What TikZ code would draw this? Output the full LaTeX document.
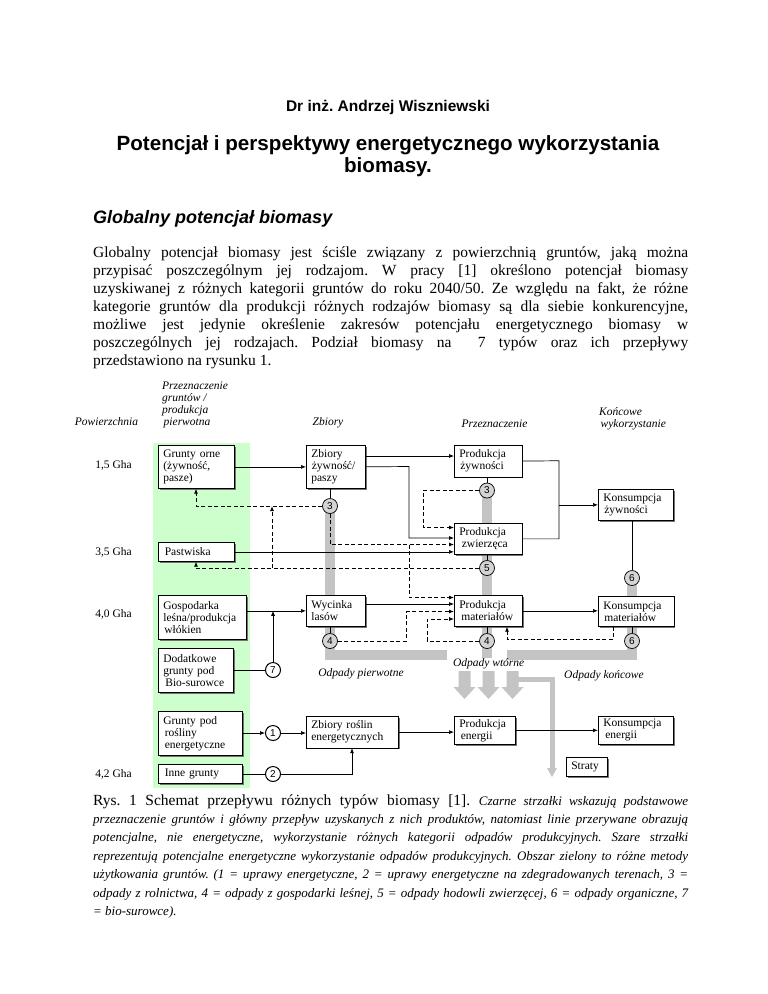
\documentclass[tikz,border=0pt]{standalone}
\usepackage{fontspec}
\setmainfont{Liberation Serif}
\setsansfont{Liberation Sans}
\usetikzlibrary{arrows.meta,shadows}
\definecolor{lgreen}{RGB}{204,255,204}
\definecolor{wgray}{RGB}{196,196,196}
\definecolor{cgray}{RGB}{212,212,212}
\newcommand\dfont{\fontsize{11.5}{12}\selectfont}
\newcommand\bodyfont{\fontsize{15.5}{18.5}\selectfont}
\newcommand\capit{\fontsize{13}{17}\selectfont\itshape}
\newcommand\bx[7]{\node[box, minimum width=#4pt, minimum height=#5pt, text width=#6pt] (#1) at (#2,#3) {#7};}
\newcommand\jl[3]{\node[anchor=base west, inner sep=0pt] (#1) at (#2) {\makebox[595pt][s]{#3}};}
\frenchspacing
\begin{document}
\begin{tikzpicture}[x=1pt,y=-1pt,
  >={Latex[length=5pt,width=4pt]},
  box/.style={draw, line width=0.7pt, fill=white, anchor=north west, inner xsep=5pt, inner ysep=0pt,
    align=left, font=\dfont,
    drop shadow={shadow xshift=1.3pt, shadow yshift=-1.3pt, fill=black!55, opacity=1}},
  circ/.style={circle, draw, line width=0.7pt, fill=cgray, minimum size=15pt, inner sep=0pt,
    font=\sffamily\fontsize{10}{10}\selectfont},
  wcirc/.style={circ, fill=white, line width=1pt},
  conn/.style={line width=0.7pt},
  dconn/.style={line width=0.8pt, dash pattern=on 4pt off 2.5pt},
  band/.style={wgray, line width=10pt, miter limit=10},
  hdr/.style={font=\dfont\itshape, inner sep=0pt},
  lbl/.style={font=\dfont, inner sep=0pt}]
\fill[white] (0,0) rectangle (768,994);
\useasboundingbox (0,0) rectangle (768,994);

% ---------- page text ----------
\node[anchor=base, inner sep=0pt, font=\sffamily\bfseries\fontsize{15.5}{18}\selectfont] (t0) at (388,111.5) {Dr inż. Andrzej Wiszniewski};
\node[anchor=base, inner sep=0pt, font=\sffamily\bfseries\fontsize{20.6}{24}\selectfont] (t1) at (388,150) {Potencjał i perspektywy energetycznego wykorzystania};
\node[anchor=base, inner sep=0pt, font=\sffamily\bfseries\fontsize{20.6}{24}\selectfont] (t2) at (388,172) {biomasy.};
\node[anchor=base west, inner sep=0pt, font=\sffamily\bfseries\itshape\fontsize{18}{20}\selectfont] (t3) at (93,223) {Globalny potencjał biomasy};

\begin{scope}[font=\bodyfont]
\jl{b1}{93,257}{Globalny potencjał biomasy jest ściśle związany z powierzchnią gruntów, jaką można}
\jl{b2}{93,275}{przypisać poszczególnym jej rodzajom. W pracy [1] określono potencjał biomasy}
\jl{b3}{93,293}{uzyskiwanej z różnych kategorii gruntów do roku 2040/50. Ze względu na fakt, że różne}
\jl{b4}{93,311}{kategorie gruntów dla produkcji różnych rodzajów biomasy są dla siebie konkurencyjne,}
\jl{b5}{93,329}{możliwe jest jedynie określenie zakresów potencjału energetycznego biomasy w}
\jl{b6}{93,347}{poszczególnych jej rodzajach. Podział biomasy na \ 7 typów oraz ich przepływy}
\node[anchor=base west, inner sep=0pt] (b7) at (93,365) {przedstawiono na rysunku 1.};

\jl{c0}{93,805}{Rys. 1 Schemat przepływu różnych typów biomasy [1]. {\capit Czarne strzałki wskazują podstawowe}}
\end{scope}
\begin{scope}[font=\capit]
\jl{cl1}{93,823}{przeznaczenie gruntów i główny przepływ uzyskanych z nich produktów, natomiast linie przerywane obrazują}
\jl{cl2}{93,841.5}{potencjalne, nie energetyczne, wykorzystanie różnych kategorii odpadów produkcyjnych. Szare strzałki}
\jl{cl3}{93,860}{reprezentują potencjalne energetyczne wykorzystanie odpadów produkcyjnych. Obszar zielony to różne metody}
\jl{cl4}{93,878.5}{użytkowania gruntów. (1 = uprawy energetyczne, 2 = uprawy energetyczne na zdegradowanych terenach, 3 =}
\jl{cl5}{93,897}{odpady z rolnictwa, 4 = odpady z gospodarki leśnej, 5 = odpady hodowli zwierzęcej, 6 = odpady organiczne, 7}
\node[anchor=base west, inner sep=0pt] (cl6) at (93,915.5) {= bio-surowce).};
\end{scope}

% ---------- diagram background ----------
\fill[lgreen] (153,443) rectangle (250,788);

% grey waste flows
\draw[band] (330,506) -- (330,655) -- (447,655);
\draw[band] (487,490) -- (487,658);
\draw[band] (632,578) -- (632,655) -- (507,655);
\foreach \cx in {464.5,488.5,512.5}
  \fill[wgray] (\cx-6,671) -- (\cx+6,671) -- (\cx+6,687) -- (\cx+11,687) -- (\cx,699)
               -- (\cx-11,687) -- (\cx-6,687) -- cycle;
\draw[wgray, line width=5pt, miter limit=10] (512,679.5) -- (552,679.5) -- (552,769);
\fill[wgray] (547,768) -- (557,768) -- (552,777) -- cycle;

% headers
\node[hdr] (h1) at (106.5,421.7) {Powierzchnia};
\node[hdr, anchor=west, align=left] (h2) at (162,405) {Przeznaczenie\\gruntów /\\produkcja\\\hspace*{1.5pt}pierwotna};
\node[hdr] (h3) at (328,423) {Zbiory};
\node[hdr] (h4) at (494.5,424) {Przeznaczenie};
\node[hdr, anchor=west, align=left] (h5) at (599,419) {Końcowe\\\hspace*{1.5pt}wykorzystanie};
\node[hdr] (o1) at (361,673.3) {Odpady pierwotne};
\node[hdr] (o2) at (488.7,664) {Odpady wtórne};
\node[hdr] (o3) at (604,675.7) {Odpady końcowe};
\node[lbl] (g1) at (113.5,465.7) {1,5 Gha};
\node[lbl] (g2) at (113.5,552) {3,5 Gha};
\node[lbl] (g3) at (113.5,614) {4,0 Gha};
\node[lbl] (g4) at (113.5,774) {4,2 Gha};

% boxes
\bx{go}{158}{445}{76}{43}{66}{Grunty orne\\(żywność,\\pasze)}
\bx{pa}{158}{542}{76}{19}{66}{\hspace*{1.5pt}Pastwiska}
\bx{gl}{158}{595}{88}{44}{78}{Gospodarka\\leśna/produkcja\\\hspace*{1pt}włókien}
\bx{do}{158}{648}{75}{44}{65}{Dodatkowe\\grunty pod\\\hspace*{2pt}Bio-surowce}
\bx{gp}{158}{711}{84}{44}{74}{Grunty pod\\\hspace*{1.5pt}rośliny\\\hspace*{1.5pt}energetyczne}
\bx{ig}{158}{764}{84}{19}{74}{\hspace*{1.5pt}Inne grunty}
\bx{zb}{306}{445}{59}{43}{49}{Zbiory\\\hspace*{0.5pt}żywność/\\paszy}
\bx{wl}{306}{595}{59}{31}{49}{Wycinka\\lasów}
\bx{zr}{306}{716}{92}{31.5}{82}{Zbiory roślin\\energetycznych}
\bx{pz}{454}{445}{67.5}{31.5}{57.5}{Produkcja\\\hspace*{1pt}żywności}
\bx{pzw}{454}{523}{67.5}{31}{57.5}{Produkcja\\\hspace*{2.5pt}zwierzęca}
\bx{pm}{454}{595}{68}{31}{58}{Produkcja\\\hspace*{2pt}materiałów}
\bx{pe}{454}{716}{61}{28}{51}{Produkcja\\\hspace*{1.5pt}energii}
\bx{kz}{598}{489}{75}{31}{65}{Konsumpcja\\\hspace*{1pt}żywności}
\bx{km}{598}{596}{75.5}{30}{65.5}{Konsumpcja\\\hspace*{1pt}materiałów}
\bx{ke}{598}{716}{75}{28}{65}{Konsumpcja\\\hspace*{2pt}energii}
\bx{st}{566}{757}{41}{19}{31}{Straty}

% circles
\node[circ] (c3a) at (330,506) {3};
\node[circ] (c3b) at (487,490.5) {3};
\node[circ] (c5) at (487,568) {5};
\node[circ] (c4a) at (330,641) {4};
\node[circ] (c4b) at (487,641) {4};
\node[circ] (c6a) at (632,578) {6};
\node[circ] (c6b) at (632,641) {6};
\node[wcirc] (c7) at (273,670) {7};
\node[wcirc] (c1) at (273,733) {1};
\node[wcirc] (c2) at (273,774) {2};

% solid connectors
\draw[conn,->] (go.east) -- (zb.west);
\draw[conn,->] (zb.east |- 0,456) -- (pz.west |- 0,456);
\draw[conn,->] (zb.east) -- (409,466.5) |- (pzw.west |- 0,538);
\draw[conn,->] (pa.east) -- (pa.east -| pzw.west);
\draw[conn] (pz.east) -- (559,460.75) |- (pzw.east);
\draw[conn,->] (559,0 |- kz.west) -- (kz.west);
\draw[conn] (c6a |- kz.south) -- (c6a.north);
\draw[conn,->] (gl.east |- wl.west) -- (wl.west);
\draw[conn] (do.east |- c7) -- (c7.west);
\draw[conn,->] (c7.north) -- (c7 |- wl.west);
\draw[conn,->] (wl.east |- 0,604) -- (pm.west |- 0,604);
\draw[conn,->] (pm.east) -- (pm.east -| km.west);
\draw[conn] (c3a |- zb.south) -- (c3a.north);
\draw[conn] (c3b |- pz.south) -- (c3b.north);
\draw[conn] (c5 |- pzw.south) -- (c5.north);
\draw[conn] (c4a |- wl.south) -- (c4a.north);
\draw[conn] (c4b |- pm.south) -- (c4b.north);
\draw[conn] (c6b |- km.south) -- (c6b.north);
\draw[conn,->] (gp.east |- c1) -- (c1.west);
\draw[conn,->] (c1.east) -- (c1 -| zr.west);
\draw[conn] (ig.east |- c2) -- (c2.west);
\draw[conn,->] (c2.east) -- (352,0 |- c2) -- (352,0 |- zr.south);
\draw[conn,->] (zr.east) -- (zr.east -| pe.west);
\draw[conn,->] (pe.east) -- (pe.east -| ke.west);

% dashed connectors
\draw[dconn,->] (c3a.west) -- (196,0 |- c3a) -- (196,0 |- go.south);
\draw[dconn,->] (c5.west) -- (196,0 |- c5) -- (196,0 |- pa.south);
\draw[dconn,->] (272,0 |- c5) -- (272,0 |- c3a);
\draw[dconn,->] (c3a.south) |- (pzw.west |- 0,544.5);
\draw[dconn,->] (409,544.5) -- (409,597.5) -- (pm.west |- 0,597.5);
\draw[dconn,->] (c3b.west) -- (423,0 |- c3b) |- (pzw.west |- 0,527.5);
\draw[dconn,->] (c4a.east) -- (406.5,0 |- c4a) |- (pm.west |- 0,611.5);
\draw[dconn,->] (c4b.west) -- (427,0 |- c4b) |- (pm.west |- 0,619);
\draw[dconn,->] (613,0 |- km.south) -- (613,639.5) -| (507,0 |- pm.south);
\end{tikzpicture}
\end{document}
